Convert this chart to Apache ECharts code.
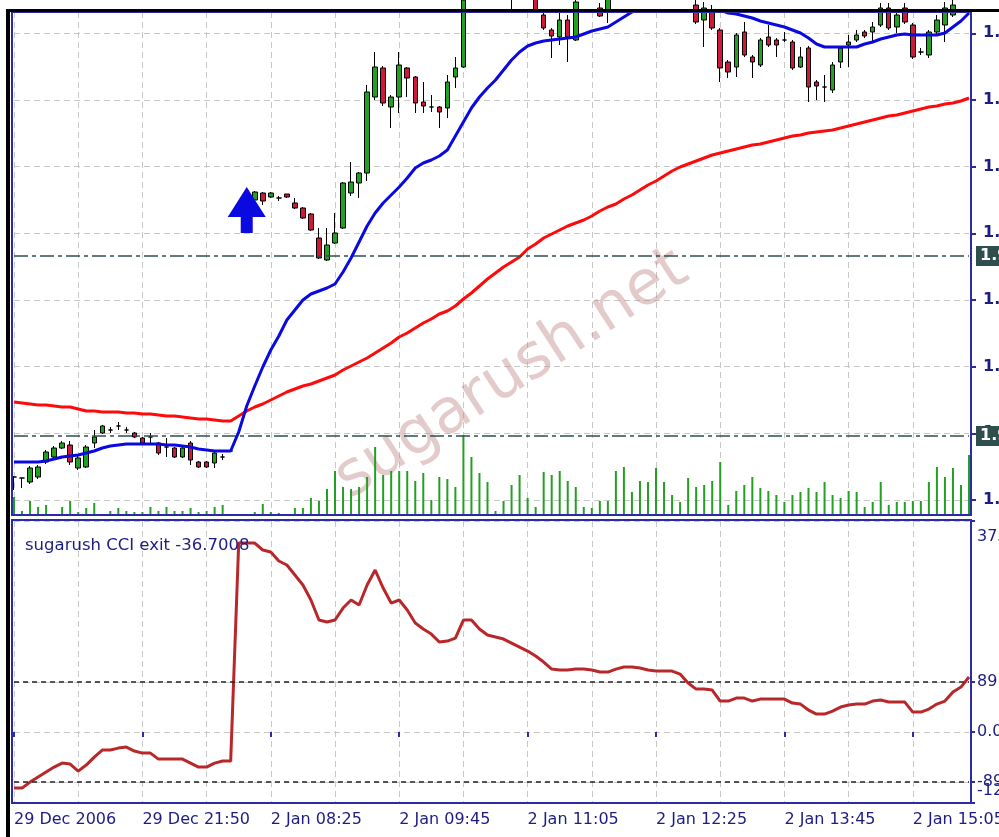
<!DOCTYPE html>
<html>
<head>
<meta charset="utf-8"/>
<title>sugarush CCI exit</title>
<script src="https://cdn.jsdelivr.net/npm/echarts@6/dist/echarts.min.js"></script>
<style>
    html, body { margin: 0; padding: 0; background: #fff; }
    #chart { width: 999px; height: 837px; }
</style>
</head>
<body>
<div id="chart"></div>
<script>
// M5 sessions: [day, first bar, bar count]
var sessions = [['29 Dec', '20:30', 28], ['2 Jan', '08:05', 92]];

var opens = [
    1.95669, 1.95666, 1.95654, 1.95669, 1.95714, 1.95729, 1.95756, 1.95765, 1.95696, 1.95699,
    1.95771, 1.95801, 1.95810, 1.95822, 1.95810, 1.95801, 1.95786, 1.95789, 1.95771, 1.95759,
    1.95756, 1.95729, 1.95771, 1.95714, 1.95714, 1.95711, 1.95729, 1.95747, 1.96479, 1.96491,
    1.96500, 1.96521, 1.96509, 1.96506, 1.96518, 1.96491, 1.96476, 1.96458, 1.96386, 1.96320,
    1.96371, 1.96416, 1.96521, 1.96551, 1.96581, 1.96809, 1.96896, 1.96779, 1.96809, 1.96896,
    1.96869, 1.96794, 1.96779, 1.96779, 1.96776, 1.96869, 1.96899, 1.97100, 1.97160, 1.97124,
    1.97175, 1.97145, 1.97190, 1.97115, 1.97154, 1.97106, 1.97055, 1.97010, 1.96989, 1.97040,
    1.96980, 1.97094, 1.97130, 1.97076, 1.97070, 1.97106, 1.97145, 1.97175, 1.97154, 1.97190,
    1.97166, 1.97136, 1.97160, 1.97124, 1.97142, 1.97085, 1.97040, 1.97070, 1.97010, 1.96914,
    1.96899, 1.97004, 1.96929, 1.96905, 1.96989, 1.96980, 1.96980, 1.96974, 1.96899, 1.96956,
    1.96854, 1.96839, 1.96830, 1.96914, 1.96965, 1.96980, 1.97004, 1.97004, 1.97025, 1.97076,
    1.97019, 1.97076, 1.97025, 1.96944, 1.96935, 1.97004, 1.97025, 1.97055, 1.97085, 1.97115
];
var closes = [
    1.95669, 1.95666, 1.95696, 1.95699, 1.95744, 1.95756, 1.95771, 1.95714, 1.95726, 1.95759,
    1.95789, 1.95822, 1.95810, 1.95822, 1.95810, 1.95789, 1.95771, 1.95789, 1.95741, 1.95759,
    1.95729, 1.95756, 1.95720, 1.95699, 1.95699, 1.95741, 1.95729, 1.95747, 1.96485, 1.96503,
    1.96524, 1.96497, 1.96521, 1.96506, 1.96509, 1.96476, 1.96446, 1.96410, 1.96326, 1.96365,
    1.96401, 1.96551, 1.96554, 1.96581, 1.96824, 1.96899, 1.96791, 1.96809, 1.96905, 1.96866,
    1.96791, 1.96782, 1.96779, 1.96764, 1.96854, 1.96896, 1.97100, 1.97160, 1.97124, 1.97175,
    1.97145, 1.97190, 1.97115, 1.97154, 1.97106, 1.97070, 1.97016, 1.96992, 1.97040, 1.96989,
    1.97094, 1.97130, 1.97100, 1.97052, 1.97106, 1.97145, 1.97175, 1.97154, 1.97190, 1.97166,
    1.97136, 1.97160, 1.97124, 1.97142, 1.97094, 1.97034, 1.97076, 1.97016, 1.96896, 1.96884,
    1.96995, 1.96935, 1.96914, 1.96980, 1.96965, 1.96965, 1.96980, 1.96896, 1.96929, 1.96839,
    1.96842, 1.96839, 1.96905, 1.96956, 1.96974, 1.96995, 1.96992, 1.97019, 1.97076, 1.97016,
    1.97055, 1.97034, 1.96929, 1.96944, 1.97004, 1.97040, 1.97076, 1.97085, 1.97115, 1.97145
];
var lows = [
    1.95630, 1.95636, 1.95648, 1.95663, 1.95708, 1.95726, 1.95753, 1.95705, 1.95690, 1.95696,
    1.95756, 1.95798, 1.95801, 1.95810, 1.95801, 1.95786, 1.95768, 1.95771, 1.95735, 1.95729,
    1.95726, 1.95726, 1.95705, 1.95696, 1.95696, 1.95696, 1.95720, 1.95744, 1.96470, 1.96485,
    1.96497, 1.96485, 1.96506, 1.96497, 1.96506, 1.96473, 1.96443, 1.96407, 1.96323, 1.96317,
    1.96368, 1.96413, 1.96512, 1.96506, 1.96557, 1.96800, 1.96782, 1.96716, 1.96761, 1.96809,
    1.96761, 1.96761, 1.96764, 1.96716, 1.96746, 1.96836, 1.96896, 1.97094, 1.97112, 1.97115,
    1.97130, 1.97136, 1.97061, 1.97088, 1.97076, 1.97064, 1.97010, 1.96926, 1.96965, 1.96914,
    1.96977, 1.97085, 1.97085, 1.97049, 1.97031, 1.97094, 1.97130, 1.97136, 1.97142, 1.97148,
    1.97118, 1.97115, 1.97106, 1.97094, 1.97076, 1.97028, 1.96959, 1.97010, 1.96854, 1.96866,
    1.96869, 1.96929, 1.96866, 1.96899, 1.96959, 1.96929, 1.96974, 1.96890, 1.96896, 1.96794,
    1.96800, 1.96794, 1.96821, 1.96896, 1.96899, 1.96974, 1.96986, 1.96974, 1.97019, 1.97010,
    1.97001, 1.97028, 1.96923, 1.96935, 1.96926, 1.96998, 1.96974, 1.97049, 1.97076, 1.97085
];
var highs = [
    1.95672, 1.95666, 1.95702, 1.95705, 1.95750, 1.95762, 1.95777, 1.95777, 1.95732, 1.95765,
    1.95810, 1.95825, 1.95819, 1.95834, 1.95819, 1.95804, 1.95789, 1.95801, 1.95774, 1.95786,
    1.95759, 1.95759, 1.95777, 1.95717, 1.95717, 1.95747, 1.95738, 1.95750, 1.96488, 1.96509,
    1.96527, 1.96524, 1.96524, 1.96512, 1.96518, 1.96506, 1.96479, 1.96461, 1.96416, 1.96416,
    1.96461, 1.96554, 1.96614, 1.96584, 1.96845, 1.96944, 1.96902, 1.96815, 1.96944, 1.96899,
    1.96872, 1.96854, 1.96815, 1.96782, 1.96875, 1.96929, 1.97130, 1.97175, 1.97178, 1.97190,
    1.97196, 1.97205, 1.97199, 1.97166, 1.97166, 1.97118, 1.97064, 1.97016, 1.97061, 1.97055,
    1.97115, 1.97145, 1.97145, 1.97091, 1.97118, 1.97160, 1.97196, 1.97190, 1.97205, 1.97214,
    1.97184, 1.97175, 1.97172, 1.97154, 1.97154, 1.97100, 1.97094, 1.97085, 1.97016, 1.96920,
    1.97001, 1.97034, 1.96935, 1.96986, 1.97025, 1.96986, 1.97004, 1.96980, 1.96959, 1.96962,
    1.96860, 1.96875, 1.96914, 1.96962, 1.96995, 1.97010, 1.97010, 1.97034, 1.97091, 1.97091,
    1.97070, 1.97091, 1.97031, 1.96956, 1.97010, 1.97055, 1.97094, 1.97100, 1.97130, 1.97160
];
var volumes = [
    18, 4, 14, 8, 10, 1, 8, 14, 3, 7, 12, 1, 4, 7, 4, 3, 3, 8, 4, 8,
    4, 4, 7, 3, 4, 8, 10, 1, 1, 1, 3, 11, 3, 2, 1, 7, 7, 17, 14, 26,
    44, 28, 26, 28, 38, 68, 40, 44, 44, 44, 34, 42, 15, 38, 36, 28, 80, 58, 42, 33,
    4, 14, 30, 40, 17, 8, 43, 40, 44, 34, 28, 8, 7, 14, 14, 44, 48, 23, 34, 33,
    47, 33, 20, 13, 37, 28, 30, 34, 53, 10, 24, 30, 38, 27, 24, 20, 13, 20, 23, 27,
    23, 33, 20, 17, 24, 23, 8, 13, 33, 10, 13, 13, 14, 14, 33, 48, 38, 47, 30, 60
];
// fast (blue) and slow (red) moving averages
var maFast = [
    1.95714, 1.95714, 1.95714, 1.95714, 1.95717, 1.95723, 1.95729, 1.95732, 1.95735, 1.95741,
    1.95747, 1.95756, 1.95762, 1.95765, 1.95768, 1.95768, 1.95768, 1.95768, 1.95768, 1.95765,
    1.95765, 1.95762, 1.95759, 1.95753, 1.95750, 1.95747, 1.95747, 1.95747, 1.95804, 1.95882,
    1.95942, 1.95999, 1.96050, 1.96092, 1.96140, 1.96170, 1.96200, 1.96218, 1.96227, 1.96236,
    1.96248, 1.96284, 1.96326, 1.96374, 1.96422, 1.96461, 1.96491, 1.96515, 1.96539, 1.96566,
    1.96596, 1.96611, 1.96620, 1.96632, 1.96650, 1.96692, 1.96734, 1.96776, 1.96809, 1.96836,
    1.96860, 1.96890, 1.96920, 1.96944, 1.96962, 1.96971, 1.96977, 1.96980, 1.96983, 1.96986,
    1.96989, 1.96998, 1.97007, 1.97013, 1.97019, 1.97034, 1.97049, 1.97064, 1.97073, 1.97082,
    1.97088, 1.97094, 1.97097, 1.97100, 1.97100, 1.97097, 1.97091, 1.97082, 1.97070, 1.97061,
    1.97058, 1.97052, 1.97046, 1.97037, 1.97031, 1.97025, 1.97019, 1.97010, 1.97001, 1.96986,
    1.96968, 1.96959, 1.96959, 1.96959, 1.96959, 1.96959, 1.96968, 1.96974, 1.96983, 1.96989,
    1.96995, 1.96998, 1.96995, 1.96995, 1.96995, 1.96995, 1.97001, 1.97019, 1.97037, 1.97061
];
var maSlow = [
    1.95894, 1.95891, 1.95888, 1.95885, 1.95885, 1.95882, 1.95879, 1.95879, 1.95873, 1.95867,
    1.95867, 1.95864, 1.95864, 1.95864, 1.95861, 1.95861, 1.95858, 1.95858, 1.95855, 1.95852,
    1.95852, 1.95849, 1.95846, 1.95843, 1.95843, 1.95840, 1.95837, 1.95837, 1.95852, 1.95867,
    1.95879, 1.95888, 1.95900, 1.95912, 1.95924, 1.95933, 1.95942, 1.95948, 1.95957, 1.95966,
    1.95975, 1.95990, 1.96002, 1.96014, 1.96026, 1.96041, 1.96056, 1.96071, 1.96089, 1.96101,
    1.96116, 1.96131, 1.96143, 1.96158, 1.96167, 1.96182, 1.96203, 1.96221, 1.96242, 1.96263,
    1.96281, 1.96299, 1.96314, 1.96329, 1.96353, 1.96368, 1.96386, 1.96398, 1.96410, 1.96422,
    1.96431, 1.96440, 1.96452, 1.96467, 1.96479, 1.96488, 1.96503, 1.96515, 1.96530, 1.96545,
    1.96557, 1.96572, 1.96587, 1.96599, 1.96608, 1.96617, 1.96626, 1.96635, 1.96641, 1.96647,
    1.96653, 1.96659, 1.96665, 1.96668, 1.96674, 1.96680, 1.96686, 1.96692, 1.96695, 1.96701,
    1.96704, 1.96707, 1.96710, 1.96716, 1.96722, 1.96728, 1.96734, 1.96740, 1.96746, 1.96752,
    1.96755, 1.96761, 1.96767, 1.96773, 1.96779, 1.96782, 1.96788, 1.96791, 1.96797, 1.96806
];
var cci = [
    -99.7, -99.7, -89.0, -80.1, -71.2, -62.3, -55.2, -57.0, -69.4, -58.7,
    -44.5, -32.0, -32.0, -28.5, -26.7, -33.8, -37.4, -37.4, -48.1, -48.1,
    -48.1, -48.1, -55.2, -62.3, -62.3, -55.2, -51.6, -51.6, 336.4, 336.4,
    336.4, 324.0, 320.4, 304.4, 297.3, 279.5, 261.7, 235.0, 199.4, 195.8,
    199.4, 220.7, 235.0, 226.1, 261.7, 288.4, 256.3, 229.6, 235.0, 217.2,
    194.0, 183.3, 174.4, 160.2, 162.0, 167.3, 199.4, 199.4, 183.3, 172.7,
    169.1, 165.5, 158.4, 151.3, 144.2, 135.3, 124.6, 112.1, 110.4, 110.4,
    112.1, 112.1, 110.4, 106.8, 106.8, 112.1, 115.7, 115.7, 113.9, 110.4,
    108.6, 108.6, 108.6, 103.2, 87.2, 76.5, 76.5, 74.8, 55.2, 55.2,
    60.5, 60.5, 55.2, 58.7, 58.7, 58.7, 58.7, 51.6, 49.8, 39.2,
    32.0, 32.0, 37.4, 44.5, 48.1, 49.8, 49.8, 55.2, 57.0, 53.4,
    53.4, 53.4, 35.6, 35.6, 40.9, 49.8, 55.2, 71.2, 80.1, 97.9
];
var priceTicks = [1.956, 1.958, 1.960, 1.962, 1.964, 1.966, 1.968, 1.970];
var hLines = [1.96332, 1.95792];
var cciMin = -126.2, cciMax = 375.6;
var cciTicks = [-89, 0, 89, cciMax];
var cciLevels = [89, -89];
var signal = [29, 1.96470];

function pad(n) { return (n < 10 ? '0' : '') + n; }
var times = [];
sessions.forEach(function (s) {
    var p = s[1].split(':'), m0 = +p[0] * 60 + +p[1];
    for (var k = 0; k < s[2]; k++) {
        var t = m0 + 5 * k;
        times.push(s[0] + ' ' + pad(Math.floor(t / 60)) + ':' + pad(t % 60));
    }
});
var candles = opens.map(function (o, i) { return [o, closes[i], lows[i], highs[i]]; });

var navy = '#1c1c84';
var frame = '#2b2ba6';
var font = 'DejaVu Sans';
var gridDash = {show: true, interval: 7, lineStyle: {color: '#c8c8c8', type: [6, 4], width: 1}};
var hDash = {show: true, lineStyle: {color: '#c8c8c8', type: [6, 4], width: 1}};

var chart = echarts.init(document.getElementById('chart'));
chart.setOption({
    animation: false,
    backgroundColor: '#fff',
    textStyle: {fontFamily: font},
    title: {
        text: 'sugarush CCI exit -36.7008',
        left: 20, top: 532,
        textStyle: {color: navy, fontSize: 16.5, fontWeight: 'normal', fontFamily: font}
    },
    grid: [
        {left: 14, width: 955, top: 12, height: 503, outerBoundsMode: 'none', containLabel: false},
        {left: 14, width: 955, top: 521, height: 282, outerBoundsMode: 'none', containLabel: false}
    ],
    xAxis: [
        {
            type: 'category', gridIndex: 0, data: times, boundaryGap: false,
            axisLine: {show: false}, axisTick: {show: false}, axisLabel: {show: false},
            splitLine: gridDash
        },
        {
            type: 'category', gridIndex: 1, data: times, boundaryGap: false,
            axisLine: {show: false},
            axisTick: {show: true, interval: 15, length: 5, lineStyle: {color: frame, width: 2}},
            axisLabel: {
                interval: 15, align: 'left', color: navy, fontSize: 16, fontFamily: font, margin: 9,
                formatter: function (v, i) { return i === 0 ? '29 Dec 2006' : v; }
            },
            splitLine: gridDash
        }
    ],
    yAxis: [
        {
            type: 'value', gridIndex: 0, position: 'right', offset: 2,
            min: 1.95555, max: 1.97064,
            axisLine: {show: false},
            axisTick: {show: true, customValues: priceTicks, length: 5, lineStyle: {color: frame, width: 2}},
            axisLabel: {
                customValues: priceTicks, margin: 12, color: navy, fontSize: 16, fontWeight: 'bold', fontFamily: font,
                formatter: function (v) { return v.toFixed(4); }
            },
            splitLine: hDash
        },
        {type: 'value', gridIndex: 0, min: 0, max: 503, show: false},
        {
            type: 'value', gridIndex: 1, position: 'right', offset: 2,
            min: cciMin, max: cciMax,
            axisLine: {show: false},
            axisTick: {show: true, customValues: [cciMin].concat(cciTicks), length: 4, lineStyle: {color: frame, width: 2}},
            axisLabel: {
                customValues: cciTicks, margin: 6, color: navy, fontSize: 16, fontFamily: font,
                showMaxLabel: true, verticalAlignMaxLabel: 'top',
                formatter: function (v) {
                    var s = v.toFixed(2);
                    return v === cciMax ? '{mx|' + s + '}' : s;
                },
                rich: {
                    mx: {padding: [8, 0, 0, 0], color: navy, fontSize: 16, fontFamily: font}
                }
            },
            splitLine: hDash
        }
    ],
    series: [
        {
            name: 'Volume', type: 'bar', xAxisIndex: 0, yAxisIndex: 1, data: volumes,
            barWidth: 2, itemStyle: {color: '#22a022'}, z: 2
        },
        {
            name: 'Price', type: 'candlestick', xAxisIndex: 0, yAxisIndex: 0, data: candles,
            barWidth: 5, clip: true, z: 3,
            itemStyle: {color: '#22a022', color0: '#cc1a3a', borderColor: '#000', borderColor0: '#000', borderWidth: 1}
        },
        {
            name: 'MA slow', type: 'line', xAxisIndex: 0, yAxisIndex: 0, data: maSlow,
            symbol: 'none', clip: true, z: 4, lineStyle: {color: '#ff0a0a', width: 3},
            markLine: {
                silent: true, symbol: 'none', precision: 5,
                lineStyle: {color: '#2f4f4f', type: [14, 4, 4, 4], width: 1.5},
                label: {
                    show: true, position: 'end', distance: 7,
                    backgroundColor: '#2f4f4f', color: '#fff', fontSize: 16, fontWeight: 'bold', fontFamily: font,
                    padding: [2, 4],
                    formatter: function (p) { return p.value.toFixed(4); }
                },
                data: hLines.map(function (v) { return {yAxis: v}; })
            }
        },
        {
            name: 'MA fast', type: 'line', xAxisIndex: 0, yAxisIndex: 0, data: maFast,
            symbol: 'none', clip: true, z: 5, lineStyle: {color: '#0a0ae0', width: 3}
        },
        {
            name: 'Signal', type: 'scatter', xAxisIndex: 0, yAxisIndex: 0, data: [signal],
            symbol: 'path://M19 0 L38 30 L25 30 L25 46 L13 46 L13 30 L0 30 Z',
            symbolSize: [38, 46], itemStyle: {color: '#0a0ae0', opacity: 1}, z: 6
        },
        {
            name: 'CCI', type: 'line', xAxisIndex: 1, yAxisIndex: 2, data: cci,
            symbol: 'none', z: 4, lineStyle: {color: '#b8282a', width: 3},
            markLine: {
                silent: true, symbol: 'none', label: {show: false},
                lineStyle: {color: '#222', type: [5, 4], width: 1.5},
                data: cciLevels.map(function (v) { return {yAxis: v}; })
            }
        }
    ],
    graphic: [
        {
            type: 'text', x: 512, y: 375, rotation: 33 * Math.PI / 180, z: 1,
            style: {
                text: 'sugarush.net', fontSize: 62, fontFamily: font,
                fill: 'rgba(190, 130, 130, 0.42)', align: 'center', verticalAlign: 'middle'
            }
        },
        {
            // scale minimum label, drawn just above the bottom edge like the terminal does
            type: 'text', x: 977, y: 791, z: 20,
            style: {text: cciMin.toFixed(2), fontSize: 16, fontFamily: font, fill: navy, align: 'left', verticalAlign: 'middle'}
        },
        {type: 'rect', z: 20, shape: {x: 12, y: 12, width: 959, height: 503}, style: {fill: 'none', stroke: frame, lineWidth: 2}},
        {type: 'rect', z: 20, shape: {x: 12, y: 520, width: 959, height: 283}, style: {fill: 'none', stroke: frame, lineWidth: 2}},
        {type: 'rect', z: 21, shape: {x: 6, y: 9, width: 4, height: 828}, style: {fill: '#000'}},
        {type: 'rect', z: 21, shape: {x: 6, y: 9, width: 993, height: 3}, style: {fill: '#000'}}
    ]
});
</script>
</body>
</html>
